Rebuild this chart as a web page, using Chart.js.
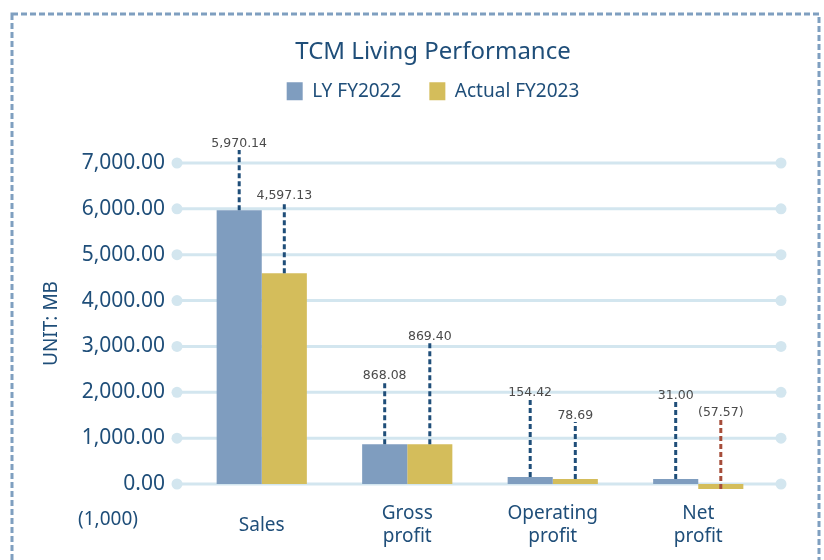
<!DOCTYPE html>
<html>
<head>
<meta charset="utf-8">
<script src="https://cdn.jsdelivr.net/npm/chart.js@4.4.1/dist/chart.umd.min.js"></script>
<style>
  html, body { margin: 0; padding: 0; background: #fff; }
  #wrap { width: 824px; height: 560px; }
</style>
</head>
<body>
<div id="wrap"><canvas id="perfChart" width="824" height="560"></canvas></div>
<script>
// values in MB (1,000)
const categories = [["Sales"], ["Gross", "profit"], ["Operating", "profit"], ["Net", "profit"]];
const lyFY2022 = [5970.14, 868.08, 154.42, 31.00];
const actualFY2023 = [4597.13, 869.40, 78.69, -57.57];
const yMin = 0, yMax = 7000, yStep = 1000;

const NAVY = '#1f4e79';
const GRID = '#d3e6ef';

function fmt(v) {
  const s = Math.abs(v).toLocaleString('en-US', {minimumFractionDigits: 2, maximumFractionDigits: 2});
  return v < 0 ? '(' + s + ')' : s;
}

// dashed frame round the whole chart
const framePlugin = {
  id: 'frame',
  beforeDraw(chart) {
    const ctx = chart.ctx;
    ctx.save();
    ctx.strokeStyle = '#7f9fc0';
    ctx.lineWidth = 3;
    ctx.setLineDash([6, 3]);
    ctx.strokeRect(12, 14, 807, 600);
    ctx.restore();
  }
};

// title + legend sit right of the canvas centre in the original
const centerShiftPlugin = {
  id: 'centerShift',
  afterLayout(chart, args, opts) {
    [chart.titleBlock, chart.legend].forEach(b => {
      if (b) { b.left += opts.dx; b.right += opts.dx; }
    });
    if (chart.legend) {
      chart.legend.top += opts.legendDy;
      chart.legend.bottom += opts.legendDy;
    }
  }
};

// grid lines with round ends
const dotGridPlugin = {
  id: 'dotGrid',
  beforeDatasetsDraw(chart) {
    const {ctx, chartArea, scales} = chart;
    const y = scales.y;
    const x0 = chartArea.left - 12, x1 = chartArea.right + 10;
    ctx.save();
    ctx.strokeStyle = GRID;
    ctx.fillStyle = GRID;
    ctx.lineWidth = 3;
    y.ticks.forEach(t => {
      const py = y.getPixelForValue(t.value);
      ctx.beginPath();
      ctx.moveTo(x0, py);
      ctx.lineTo(x1, py);
      ctx.stroke();
      [x0, x1].forEach(px => {
        ctx.beginPath();
        ctx.arc(px, py, 5.5, 0, Math.PI * 2);
        ctx.fill();
      });
    });
    ctx.restore();
  }
};

// dashed leader lines with value labels
const leaderPlugin = {
  id: 'leaders',
  afterDatasetsDraw(chart, args, opts) {
    const {ctx, scales} = chart;
    const zeroY = scales.y.getPixelForValue(0);
    ctx.save();
    chart.data.datasets.forEach((ds, di) => {
      const meta = chart.getDatasetMeta(di);
      meta.data.forEach((bar, i) => {
        const v = ds.data[i];
        const top = zeroY - opts.lift[di][i];
        ctx.strokeStyle = v < 0 ? '#a64d3a' : NAVY;
        ctx.lineWidth = 3;
        ctx.setLineDash([5, 3]);
        ctx.beginPath();
        ctx.moveTo(bar.x, bar.y);
        ctx.lineTo(bar.x, top);
        ctx.stroke();
        ctx.setLineDash([]);
        ctx.fillStyle = '#4a4a4a';
        ctx.font = '12.5px "DejaVu Sans"';
        ctx.textAlign = 'center';
        ctx.textBaseline = 'alphabetic';
        ctx.fillText(fmt(v), bar.x, top - 3);
      });
    });
    ctx.restore();
  }
};

// unit note under the y labels
const unitNotePlugin = {
  id: 'unitNote',
  afterDraw(chart) {
    const {ctx, chartArea} = chart;
    ctx.save();
    ctx.fillStyle = NAVY;
    ctx.font = '19px "Noto Sans"';
    ctx.textAlign = 'center';
    ctx.textBaseline = 'middle';
    ctx.fillText('(1,000)', chartArea.left - 81, chartArea.bottom + 36);
    ctx.restore();
  }
};

const config = {
  type: 'bar',
  data: {
    labels: categories,
    datasets: [
      {
        label: 'LY FY2022',
        data: lyFY2022,
        backgroundColor: '#7f9dbf',
        clip: false
      },
      {
        label: 'Actual FY2023',
        data: actualFY2023,
        backgroundColor: '#d4bd5b',
        clip: false
      }
    ]
  },
  options: {
    responsive: false,
    animation: false,
    barPercentage: 1,
    categoryPercentage: 0.62,
    minBarLength: 5,
    layout: {
      padding: {left: 28, right: 53, top: 0, bottom: 0}
    },
    plugins: {
      title: {
        display: true,
        text: 'TCM Living Performance',
        color: NAVY,
        font: {family: 'Noto Sans', size: 24, weight: 'normal'},
        padding: {top: 38, bottom: 0}
      },
      legend: {
        position: 'top',
        labels: {
          color: NAVY,
          font: {family: 'Noto Sans', size: 19},
          boxWidth: 16,
          boxHeight: 18,
          padding: 28
        }
      },
      subtitle: {
        display: true,
        text: ' ',
        weight: 500,
        font: {size: 1, lineHeight: 1},
        padding: {top: 19, bottom: 19.2}
      },
      tooltip: {enabled: false},
      centerShift: {dx: 33.5, legendDy: -13},
      leaders: {
        lift: [
          [334, 102, 85, 82],
          [282, 141, 62, 65]
        ]
      }
    },
    scales: {
      x: {
        grid: {display: false, drawTicks: false},
        border: {display: false},
        afterFit: s => { s.height = 76; },
        ticks: {
          color: NAVY,
          font: {family: 'Noto Sans', size: 19},
          padding: 30,
          crossAlign: 'center',
          maxRotation: 0
        }
      },
      y: {
        min: yMin,
        max: yMax,
        grid: {display: false, drawTicks: false},
        border: {display: false},
        afterFit: s => { s.width = 161; },
        ticks: {
          stepSize: yStep,
          color: NAVY,
          font: {family: 'Noto Sans', size: 21},
          padding: 24,
          callback: v => fmt(v)
        },
        title: {
          display: true,
          text: 'UNIT: MB',
          color: NAVY,
          font: {family: 'Noto Sans', size: 19},
          padding: {top: 12, bottom: 0}
        }
      }
    }
  },
  plugins: [framePlugin, centerShiftPlugin, dotGridPlugin, leaderPlugin, unitNotePlugin]
};

var perfChart = new Chart(document.getElementById('perfChart'), config);
</script>
</body>
</html>
